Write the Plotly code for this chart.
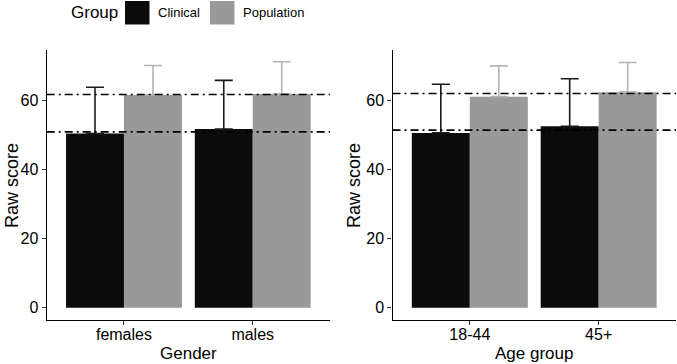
import plotly.graph_objects as go

# ---- data ----
groups = ["Clinical", "Population"]
gender_cats = ["females", "males"]
gender_clin = [50.4, 51.7]
gender_clin_top = [63.8, 65.8]
gender_pop = [61.6, 61.9]
gender_pop_top = [70.1, 71.2]
gender_hlines = [61.7, 50.9]

age_cats = ["18-44", "45+"]
age_clin = [50.6, 52.5]
age_clin_top = [64.7, 66.3]
age_pop = [61.1, 62.4]
age_pop_top = [70.0, 71.0]
age_hlines = [62.0, 51.4]

clin_color = "#0b0b0b"
pop_color = "#999999"
clin_err_color = "#1a1a1a"
pop_err_color = "#b3b3b3"
FONT = "Liberation Sans, Arial, sans-serif"

W, H = 677, 364
def px(x):
    return x / W
def py(y):
    return 1 - y / H

fig = go.Figure()

def add_panel(cats, clin, clin_top, pop, pop_top, xa, ya):
    fig.add_trace(go.Bar(
        x=cats, y=clin, name=groups[0], marker=dict(color=clin_color, line=dict(width=0)),
        error_y=dict(type="data", symmetric=False,
                     array=[t - v for t, v in zip(clin_top, clin)],
                     arrayminus=[0] * len(clin), color=clin_err_color,
                     thickness=1.6, width=9),
        xaxis=xa, yaxis=ya, showlegend=False, offsetgroup="a"))
    fig.add_trace(go.Bar(
        x=cats, y=pop, name=groups[1], marker=dict(color=pop_color, line=dict(width=0)),
        error_y=dict(type="data", symmetric=False,
                     array=[t - v for t, v in zip(pop_top, pop)],
                     arrayminus=[0] * len(pop), color=pop_err_color,
                     thickness=1.6, width=9),
        xaxis=xa, yaxis=ya, showlegend=False, offsetgroup="b"))

add_panel(gender_cats, gender_clin, gender_clin_top, gender_pop, gender_pop_top, "x", "y")
add_panel(age_cats, age_clin, age_clin_top, age_pop, age_pop_top, "x2", "y2")

for val in gender_hlines:
    fig.add_shape(type="line", xref="x domain", yref="y", x0=0, x1=1, y0=val, y1=val,
                  line=dict(color="black", width=1.6, dash="8px,4px,2px,4px"), layer="above")
for val in age_hlines:
    fig.add_shape(type="line", xref="x2 domain", yref="y2", x0=0, x1=1, y0=val, y1=val,
                  line=dict(color="black", width=1.6, dash="8px,4px,2px,4px"), layer="above")

ydom = [py(320), py(50)]
yrange = [-3.55, 74.6]
common_x = dict(type="category", range=[-0.6, 1.6], showline=True, linecolor="black", linewidth=1.3,
                ticks="outside", ticklen=4, tickcolor="#333333", tickwidth=1.1,
                tickfont=dict(family=FONT, size=16, color="black"), showgrid=False,
                zeroline=False, automargin=False, fixedrange=True, ticklabelstandoff=-4)
common_y = dict(range=yrange, domain=ydom, showline=True, linecolor="black", linewidth=1.3,
                ticks="outside", ticklen=4, tickcolor="#333333", tickwidth=1.1,
                tickvals=[0, 20, 40, 60], tickfont=dict(family=FONT, size=16, color="black"),
                showgrid=False, zeroline=False, automargin=False, fixedrange=True)

fig.update_layout(
    width=W, height=H, margin=dict(l=0, r=0, t=0, b=0),
    paper_bgcolor="white", plot_bgcolor="white",
    barmode="group", bargap=0.1, bargroupgap=0,
    font=dict(family=FONT, color="black"),
    xaxis=dict(common_x, domain=[px(46.7), px(330)], anchor="y"),
    yaxis=dict(common_y, anchor="x"),
    xaxis2=dict(common_x, domain=[px(392.5), px(676)], anchor="y2"),
    yaxis2=dict(common_y, anchor="x2"),
)

# axis titles
ann = [
    dict(text="Gender", x=px(188), y=py(353), xref="paper", yref="paper", showarrow=False,
         font=dict(size=17), xanchor="center", yanchor="middle"),
    dict(text="Age group", x=px(534), y=py(353), xref="paper", yref="paper", showarrow=False,
         font=dict(size=17), xanchor="center", yanchor="middle"),
    dict(text="Raw score", x=px(12), y=py(186), xref="paper", yref="paper", showarrow=False,
         font=dict(size=18), textangle=-90, xanchor="center", yanchor="middle"),
    dict(text="Raw score", x=px(354), y=py(186), xref="paper", yref="paper", showarrow=False,
         font=dict(size=18), textangle=-90, xanchor="center", yanchor="middle"),
    # legend
    dict(text="Group", x=px(69), y=py(13), xref="paper", yref="paper", showarrow=False,
         font=dict(size=17), xanchor="left", yanchor="middle"),
    dict(text=groups[0], x=px(156), y=py(13), xref="paper", yref="paper", showarrow=False,
         font=dict(size=13), xanchor="left", yanchor="middle"),
    dict(text=groups[1], x=px(241), y=py(13), xref="paper", yref="paper", showarrow=False,
         font=dict(size=13), xanchor="left", yanchor="middle"),
]
fig.update_layout(annotations=ann)
fig.add_shape(type="rect", xref="paper", yref="paper", x0=px(125), x1=px(149.5), y0=py(24.5), y1=py(1),
              fillcolor=clin_color, line=dict(width=0))
fig.add_shape(type="rect", xref="paper", yref="paper", x0=px(210), x1=px(234.5), y0=py(24.5), y1=py(1),
              fillcolor=pop_color, line=dict(width=0))

fig.write_html("out.html")
